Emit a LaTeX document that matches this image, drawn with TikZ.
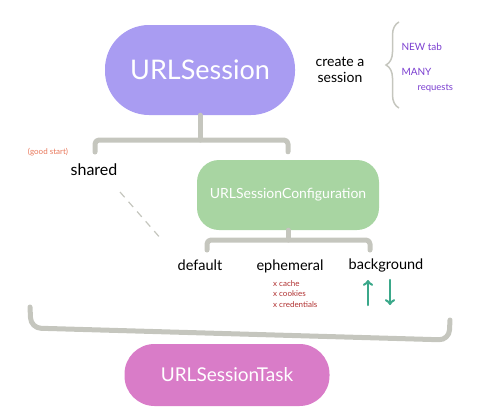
\documentclass[tikz,border=0pt]{standalone}
\usepackage{fontspec}
\setmainfont{Lato}
\usetikzlibrary{arrows,calc,decorations.pathreplacing}
\definecolor{sesscol}{HTML}{A99CF2}
\definecolor{confcol}{HTML}{A8D5A2}
\definecolor{taskcol}{HTML}{D97CC8}
\definecolor{barcol}{HTML}{C5C6BE}
\definecolor{notecol}{HTML}{7B3FD0}
\definecolor{hintcol}{HTML}{E8775A}
\definecolor{crosscol}{HTML}{B03030}
\definecolor{arrowcol}{HTML}{3BA88A}
\tikzset{
  blob/.style={fill=#1,text=white,inner sep=0pt},
  bar/.style={draw=barcol,line width=5pt,line cap=round,line join=round,rounded corners=4pt},
  word/.style={font=\fontsize{14.5}{16}\selectfont,inner sep=1pt},
}

\begin{document}
\begin{tikzpicture}[x=1pt,y=-1pt]
  \useasboundingbox (0,0) rectangle (480,418);

  \node[blob=sesscol,minimum width=190pt,minimum height=90pt,rounded corners=44pt,
        font=\fontsize{27}{30}\selectfont](sess) at (200,70){URLSession};
  \node[align=center,font=\fontsize{14}{16}\selectfont](create) at (340,70){create a\\session};
  \node[anchor=west,text=notecol,font=\fontsize{10}{12}\selectfont](newtab) at (398,47){NEW tab};
  \node[anchor=west,text=notecol,font=\fontsize{10}{12}\selectfont](many) at (398,72){MANY};
  \node[anchor=west,text=notecol,font=\fontsize{9.5}{11}\selectfont](requests) at (414,88){requests};
  \coordinate (bracetop) at (399,22);
  \coordinate (bracebot) at (399,108);
  \draw[barcol,line width=1.5pt,decorate,decoration={brace,amplitude=13pt}] (bracebot) -- (bracetop);

  \node[word,font=\fontsize{16}{18}\selectfont](shared) at (94,170){shared};
  \node[text=hintcol,font=\fontsize{8}{9}\selectfont](hint) at (48,152){(good start)};
  \node[blob=confcol,minimum width=182pt,minimum height=70pt,rounded corners=22pt,
        font=\fontsize{14}{16}\selectfont](conf) at (288,195){URLSessionConfiguration};

  % top bracket
  \coordinate (bar1) at (198,140);
  \draw[bar] (sess.south) -- (sess.south |- bar1);
  \draw[bar] (95,152) -- (95,140) -- (conf.north |- bar1) -- ($(conf.north)+(0,-8)$);
  \draw[barcol,line width=1.2pt,dash pattern=on 7pt off 6pt] (120,192) -- (162,240);

  \node[word](default) at (200,265){default};
  \node[word](ephemeral) at (290,266){ephemeral};
  \node[word](background) at (386,265){background};

  % second bracket
  \coordinate (b2l) at (207,240);
  \coordinate (b2r) at (370,240);
  \draw[bar] (conf.south) -- (conf.south |- b2l);
  \draw[bar] ($(b2l)+(0,10)$) -- (b2l) -- (b2r) -- ($(b2r)+(0,10)$);

  \node[anchor=north west,align=left,text=crosscol,inner sep=0pt,
        font=\fontsize{8}{10.5}\selectfont](crosses) at (273,280){x cache\\x cookies\\x credentials};

  \coordinate (uplow) at (368,305);
  \coordinate (uphigh) at (368,280);
  \coordinate (downhigh) at (390,280);
  \coordinate (downlow) at (390,305);
  \draw[arrowcol,line width=2.5pt,->,>=to,line cap=round] (uplow) -- (uphigh);
  \draw[arrowcol,line width=2.5pt,->,>=to,line cap=round] (downhigh) -- (downlow);

  % bottom bracket
  \draw[bar,rounded corners=10pt] (30,307) -- (31,328) -- (449,340) -- (450,320);

  \node[blob=taskcol,minimum width=205pt,minimum height=62pt,rounded corners=30pt,
        font=\fontsize{19}{22}\selectfont](task) at (227,375){URLSessionTask};
\end{tikzpicture}
\end{document}
